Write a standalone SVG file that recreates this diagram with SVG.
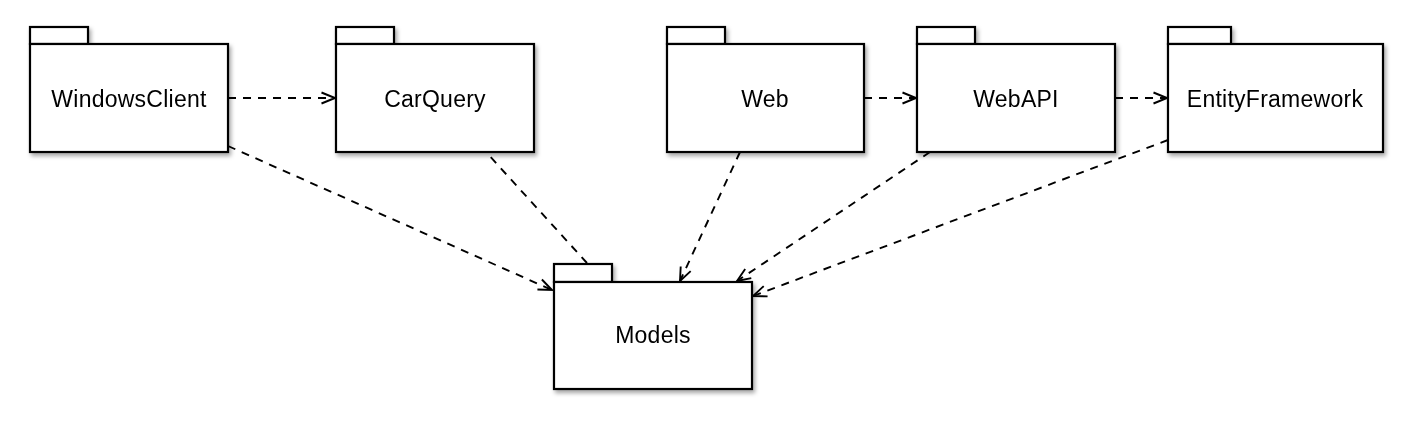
<svg xmlns="http://www.w3.org/2000/svg" width="1414" height="424" viewBox="0 0 1414 424">
<style>
.pk{fill:#fff;stroke:#000;stroke-width:2.2}
.lb{font-family:"Liberation Sans",Arial,sans-serif;font-size:23px;letter-spacing:0.25px;fill:#000;text-anchor:middle}
.dep{fill:none;stroke:#000;stroke-width:1.9;stroke-dasharray:8,7}
</style>
<defs>
<filter id="sh" x="-10%" y="-10%" width="130%" height="130%">
<feDropShadow dx="2" dy="3" stdDeviation="2" flood-color="#000" flood-opacity="0.35"/>
</filter>
<marker id="ah" viewBox="0 0 16 14" refX="14.5" refY="7" markerWidth="16" markerHeight="14" markerUnits="userSpaceOnUse" orient="auto">
<path d="M1,1.5 L14.5,7 L1,12.5" fill="none" stroke="#000" stroke-width="1.9"/>
</marker>
</defs>
<rect width="1414" height="424" fill="#fff"/>
<g id="connectors">
<line class="dep" x1="228" y1="98" x2="335" y2="98" marker-end="url(#ah)"/>
<line class="dep" x1="864" y1="98" x2="916" y2="98" marker-end="url(#ah)"/>
<line class="dep" x1="1115" y1="98" x2="1167" y2="98" marker-end="url(#ah)"/>
<line class="dep" x1="228" y1="146" x2="552" y2="290" marker-end="url(#ah)"/>
<line class="dep" x1="587" y1="263" x2="486" y2="152"/>
<line class="dep" x1="740" y1="152" x2="680" y2="281" marker-end="url(#ah)"/>
<line class="dep" x1="930" y1="152" x2="737" y2="281" marker-end="url(#ah)"/>
<line class="dep" x1="1168" y1="140" x2="753" y2="296" marker-end="url(#ah)"/>
</g>
<g id="WindowsClient" filter="url(#sh)">
<rect class="pk" x="30" y="27" width="58" height="17"/>
<rect class="pk" x="30" y="44" width="198" height="108"/>
<text class="lb" x="129" y="107">WindowsClient</text>
</g>
<g id="CarQuery" filter="url(#sh)">
<rect class="pk" x="336" y="27" width="58" height="17"/>
<rect class="pk" x="336" y="44" width="198" height="108"/>
<text class="lb" x="435" y="107">CarQuery</text>
</g>
<g id="Web" filter="url(#sh)">
<rect class="pk" x="667" y="27" width="58" height="17"/>
<rect class="pk" x="667" y="44" width="197" height="108"/>
<text class="lb" x="765" y="107">Web</text>
</g>
<g id="WebAPI" filter="url(#sh)">
<rect class="pk" x="917" y="27" width="58" height="17"/>
<rect class="pk" x="917" y="44" width="198" height="108"/>
<text class="lb" x="1016" y="107">WebAPI</text>
</g>
<g id="EntityFramework" filter="url(#sh)">
<rect class="pk" x="1168" y="27" width="63" height="17"/>
<rect class="pk" x="1168" y="44" width="215" height="108"/>
<text class="lb" x="1275" y="107">EntityFramework</text>
</g>
<g id="Models" filter="url(#sh)">
<rect class="pk" x="554" y="264" width="58" height="18"/>
<rect class="pk" x="554" y="282" width="198" height="107"/>
<text class="lb" x="653" y="343">Models</text>
</g>
</svg>
